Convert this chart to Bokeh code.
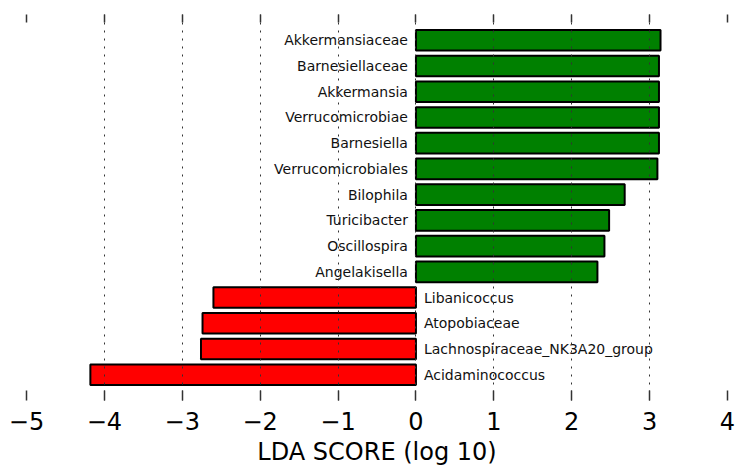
from bokeh.plotting import figure
from bokeh.models import (ColumnDataSource, Range1d, FixedTicker, LinearAxis,
                          CustomJSTickFormatter)
from bokeh.core.properties import value
from bokeh.embed import file_html
from bokeh.resources import INLINE
import numpy as np

# data (top to bottom)
features = ["Akkermansiaceae", "Barnesiellaceae", "Akkermansia", "Verrucomicrobiae",
            "Barnesiella", "Verrucomicrobiales", "Bilophila", "Turicibacter",
            "Oscillospira", "Angelakisella", "Libanicoccus", "Atopobiaceae",
            "Lachnospiraceae_NK3A20_group", "Acidaminococcus"]
lda = [3.14, 3.12, 3.12, 3.12, 3.12, 3.10, 2.68, 2.48, 2.42, 2.33,
       -2.60, -2.74, -2.76, -4.18]
x_ticks = [-5, -4, -3, -2, -1, 0, 1, 2, 3, 4]
x_min, x_max = -5, 4

n = len(features)
ypos = list(np.arange(n)[::-1])
colors = ["#008000" if v > 0 else "#ff0000" for v in lda]

src = ColumnDataSource(dict(
    feat=features, lda=lda, y=ypos, color=colors,
    zero=[0] * n,
))
pos = ColumnDataSource(dict(
    feat=[f for f, v in zip(features, lda) if v > 0],
    y=[y for y, v in zip(ypos, lda) if v > 0],
    zero=[0 for v in lda if v > 0],
))
neg = ColumnDataSource(dict(
    feat=[f for f, v in zip(features, lda) if v <= 0],
    y=[y for y, v in zip(ypos, lda) if v <= 0],
    zero=[0 for v in lda if v <= 0],
))

p = figure(width=735, height=468, output_backend="svg", toolbar_location=None,
           x_range=Range1d(x_min, x_max), y_range=Range1d(-1, n),
           y_axis_type=None, min_border_left=26, min_border_right=8,
           min_border_top=14, min_border_bottom=68)
p.outline_line_color = None
p.background_fill_color = "white"
p.border_fill_color = "white"

p.hbar(y="y", left="zero", right="lda", height=0.8, source=src,
       fill_color="color", line_color="black", line_width=2)

p.text(x="zero", y="y", text="feat", source=pos, x_offset=-8,
       text_align="right", text_baseline="middle", text_font=value("DejaVu Sans"),
       text_font_size="14px", text_color="#111111")
p.text(x="zero", y="y", text="feat", source=neg, x_offset=8,
       text_align="left", text_baseline="middle", text_font=value("DejaVu Sans"),
       text_font_size="14px", text_color="#111111")

ticker = FixedTicker(ticks=x_ticks)
overrides = {t: (("\u2212" + str(abs(t))) if t < 0 else str(t)) for t in x_ticks}

ax = p.xaxis[0]
ax.ticker = ticker
ax.major_label_overrides = overrides
ax.axis_line_color = None
ax.major_tick_in = 10
ax.major_tick_out = 0
ax.major_tick_line_color = "#333333"
ax.major_tick_line_width = 1.5
ax.minor_tick_line_color = None
ax.major_label_text_font = "DejaVu Sans"
ax.major_label_text_font_size = "24px"
ax.major_label_text_color = "black"
ax.major_label_standoff = 11
ax.axis_label = "LDA SCORE (log 10)"
ax.axis_label_text_font = "DejaVu Sans"
ax.axis_label_text_font_size = "24px"
ax.axis_label_text_font_style = "normal"
ax.axis_label_text_color = "black"
ax.axis_label_standoff = 5

top = LinearAxis(ticker=ticker, axis_line_color=None, major_tick_in=8, major_tick_out=0,
                 major_tick_line_color="#333333", major_tick_line_width=1.5,
                 minor_tick_line_color=None,
                 formatter=CustomJSTickFormatter(code="return ''"),
                 major_label_standoff=0)
p.add_layout(top, "above")

p.xgrid.ticker = ticker
p.xgrid.grid_line_color = "#333333"
p.xgrid.grid_line_width = 1
p.xgrid.grid_line_dash = "2 6"
p.xgrid.level = "overlay"
p.ygrid.visible = False

open("out.html", "w").write(file_html(p, INLINE))
